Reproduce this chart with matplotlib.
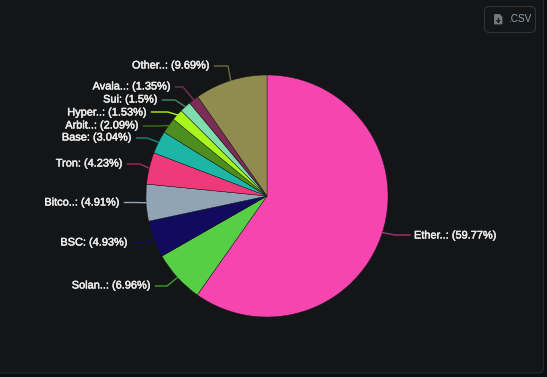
import matplotlib
matplotlib.use("Agg")
import matplotlib.pyplot as plt
import matplotlib.patheffects as pe
from matplotlib.patches import FancyBboxPatch, Polygon
import math

names = ["Ether..", "Solan..", "BSC", "Bitco..", "Tron", "Base", "Arbit..", "Hyper..", "Sui", "Avala..", "Other.."]
shares = [59.77, 6.96, 4.93, 4.91, 4.23, 3.04, 2.09, 1.53, 1.5, 1.35, 9.69]
colors = ["#f645ae", "#57ce45", "#120a5c", "#90a4b5", "#ee3a78", "#1cb5a6",
          "#4e8d20", "#a9f51e", "#7fdcac", "#7b2d55", "#908c50"]
line_colors = ["#a8327c", "#3f9a30", "#120a5c", "#90a4b5", "#a82a58", "#158a80",
               "#3d7019", "#a9f51e", "#3f8a68", "#7b2d55", "#6d6a3c"]
# label layout in pixels: text anchor x, text y, leader elbow x, elbow y
label_layout = [
    (414, 235.5, 395, 235),
    (150.5, 285.5, 167, 286),
    (127.5, 242.5, 145, 243),
    (119.5, 202.5, 135, 202.5),
    (122.5, 163.5, 140, 164),
    (131.5, 137.5, 147, 138),
    (138.5, 125.5, 157, 126),
    (146.5, 112.5, 168, 112),
    (157.5, 99.5, 175, 100),
    (170.5, 86.5, 183, 87),
    (209.5, 65.5, 228, 66),
]

W, H = 547, 377
fig = plt.figure(figsize=(W / 100, H / 100), dpi=100, facecolor="#0b0c0f")
ax = fig.add_axes([0, 0, 1, 1])
PY = lambda y: H - y

panel = FancyBboxPatch((-20, PY(373)), 563.5, 400, boxstyle="round,pad=0,rounding_size=5",
                       fc="#141517", ec="#26282b", lw=0.8, zorder=0)
ax.add_patch(panel)

cx, cy, R = 267, PY(196), 121
wedges, _ = ax.pie(shares, colors=colors, startangle=90, counterclock=False,
                   center=(cx, cy), radius=R, frame=False,
                   wedgeprops=dict(edgecolor="#141517", linewidth=0.3))
ax.set_xlim(0, W)
ax.set_ylim(0, H)
ax.set_aspect("equal")
ax.axis("off")

for w, name, val, lc, (tx, ty, ex, ey) in zip(wedges, names, shares, line_colors, label_layout):
    a = math.radians((w.theta1 + w.theta2) / 2)
    sx, sy = cx + R * math.cos(a), cy + R * math.sin(a)
    right = sx > cx
    endx = tx - 4 if right else tx + 5
    ax.plot([sx, ex, endx], [sy, PY(ey), PY(ey)], color=lc, lw=1, zorder=1,
            solid_joinstyle="round")
    ax.text(tx, PY(ty), f"{name}: ({val}%)", color="#ececec", fontsize=7.9,
            family="Liberation Sans", weight="normal",
            ha="left" if right else "right", va="center", zorder=3,
            path_effects=[pe.withStroke(linewidth=0.35, foreground="#ececec")])

# CSV button
btn = FancyBboxPatch((484.5, PY(32.5)), 51, 26, boxstyle="round,pad=0,rounding_size=5",
                     fc="#141517", ec="#303236", lw=0.8, zorder=2)
ax.add_patch(btn)
icon = Polygon([(494.5, PY(14.5)), (499.5, PY(14.5)), (502, PY(17)), (502, PY(24)), (494.5, PY(24))],
               closed=True, fc="#77797c", ec="#77797c", lw=0.6, zorder=3)
ax.add_patch(icon)
ax.plot([498.2, 498.2], [PY(18), PY(22)], color="#141517", lw=0.9, zorder=4)
ax.plot([496.6, 498.2, 499.8], [PY(20.5), PY(22), PY(20.5)], color="#141517", lw=0.8, zorder=4)
ax.text(508, PY(19.3), ".CSV", color="#8fa3b5", fontsize=7.2, family="Liberation Sans",
        ha="left", va="center", zorder=3)

fig.savefig("out.png", dpi=100, facecolor=fig.get_facecolor())
